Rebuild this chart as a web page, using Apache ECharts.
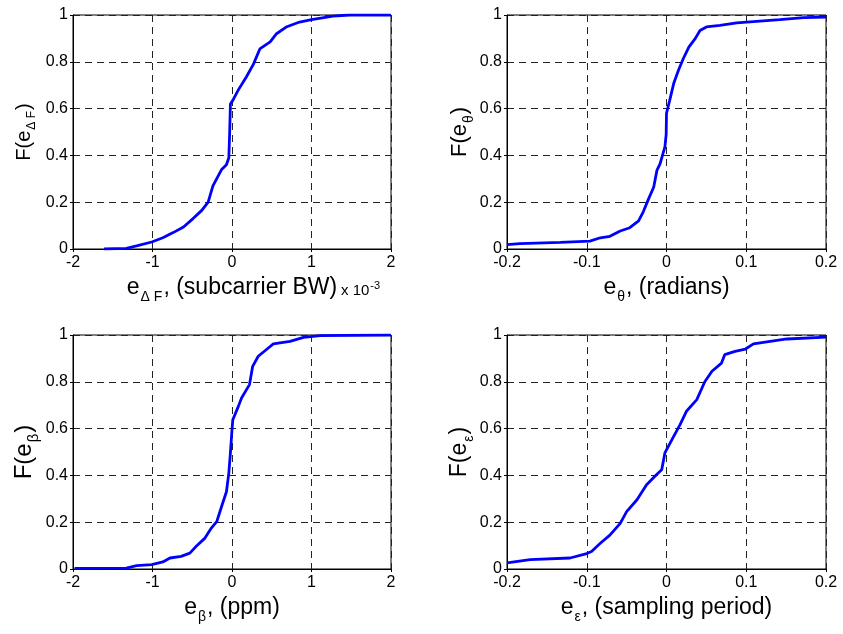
<!DOCTYPE html>
<html>
<head>
<meta charset="utf-8">
<script src="https://cdn.jsdelivr.net/npm/echarts@6/dist/echarts.min.js"></script>
<style>
html,body{margin:0;padding:0;background:#fff;}
#chart{width:843px;height:634px;}
</style>
</head>
<body>
<div id="chart"></div>
<script>
// CDF of frequency offset error (x 10^-3 subcarrier BW)
const freqX = [-1.61,-1.33,-1.20,-1.01,-0.87,-0.74,-0.61,-0.49,-0.38,-0.30,-0.24,-0.13,-0.07,-0.04,-0.03,-0.02,0.01,0.08,0.18,0.27,0.35,0.48,0.56,0.69,0.85,1.00,1.27,1.48,2.00];
const freqY = [0,0.003,0.013,0.03,0.048,0.07,0.094,0.13,0.165,0.20,0.27,0.34,0.36,0.39,0.49,0.62,0.635,0.68,0.735,0.79,0.855,0.885,0.92,0.95,0.97,0.98,0.995,1.0,1.0];
// CDF of phase error (radians)
const thetaX = [-0.2,-0.184,-0.133,-0.096,-0.083,-0.071,-0.058,-0.046,-0.035,-0.029,-0.023,-0.016,-0.012,-0.008,-0.002,-0.0004,0.0,0.004,0.009,0.015,0.021,0.028,0.036,0.042,0.05,0.067,0.088,0.109,0.142,0.172,0.2];
const thetaY = [0.019,0.023,0.028,0.034,0.048,0.054,0.077,0.091,0.12,0.16,0.21,0.265,0.336,0.365,0.436,0.49,0.58,0.635,0.707,0.764,0.813,0.863,0.899,0.934,0.949,0.956,0.966,0.972,0.98,0.989,0.991];
// CDF of clock offset error (ppm)
const betaX = [-1.98,-1.33,-1.20,-1.01,-0.87,-0.78,-0.64,-0.53,-0.45,-0.34,-0.26,-0.19,-0.13,-0.07,-0.04,-0.02,0.0,0.01,0.08,0.12,0.22,0.26,0.33,0.43,0.52,0.73,0.90,1.11,2.0];
const betaY = [0.003,0.004,0.014,0.019,0.03,0.047,0.054,0.068,0.097,0.132,0.175,0.204,0.268,0.33,0.41,0.496,0.595,0.638,0.695,0.731,0.788,0.866,0.909,0.937,0.962,0.973,0.99,0.997,1.0];
// CDF of timing error (sampling period)
const epsX = [-0.2,-0.171,-0.121,-0.1,-0.094,-0.083,-0.071,-0.058,-0.05,-0.037,-0.025,-0.012,-0.006,-0.002,0.008,0.017,0.025,0.038,0.048,0.057,0.069,0.073,0.086,0.099,0.109,0.13,0.151,0.2];
const epsY = [0.026,0.04,0.047,0.066,0.075,0.11,0.145,0.195,0.245,0.296,0.36,0.405,0.424,0.496,0.56,0.617,0.674,0.724,0.8,0.845,0.88,0.916,0.93,0.94,0.962,0.973,0.983,0.991];

const xRanges = [[-2,2,1],[-0.2,0.2,0.1],[-2,2,1],[-0.2,0.2,0.1]];
const yTicks = ['0','0.2','0.4','0.6','0.8','1'];

const FONT = 'Liberation Sans, Arial, sans-serif';
const pair = (xs, ys) => xs.map((x, i) => [x, ys[i]]);
const seriesData = [pair(freqX, freqY), pair(thetaX, thetaY), pair(betaX, betaY), pair(epsX, epsY)];

function richStyles(size) {
  const ss = Math.round(size * 0.62);
  return {
    m: { fontSize: size, fontFamily: FONT, color: '#000', lineHeight: size + 2 },
    s: { fontSize: ss, fontFamily: FONT, color: '#000', lineHeight: ss, padding: [Math.round(size * 0.8), 1, 0, 1] }
  };
}

const xNames = ['{m|e}{s|Δ F}{m|, (subcarrier BW)}', '{m|e}{s|θ}{m|, (radians)}', '{m|e}{s|β}{m|, (ppm)}', '{m|e}{s|ε}{m|, (sampling period)}'];
const yNames = ['{m|F(e}{s|Δ F}{m|)}', '{m|F(e}{s|θ}{m|)}', '{m|F(e}{s|β}{m|)}', '{m|F(e}{s|ε}{m|)}'];
const yNameSizes = [20, 22, 24, 23];
const yNameGaps = [38, 32, 30, 31];
const xNameGaps = [15, 15, 20, 20];

const grids = [
  { left: 73, top: 15, width: 318, height: 234 },
  { left: 507, top: 15, width: 319, height: 234 },
  { left: 73, top: 335, width: 318, height: 234 },
  { left: 507, top: 335, width: 319, height: 234 }
].map(g => Object.assign(g, { show: true, borderColor: '#000', borderWidth: 1, backgroundColor: '#fff' }));

const dashed = { show: true, lineStyle: { color: '#222', width: 1, type: [7, 5] } };

const xAxes = xRanges.map((r, i) => ({
  type: 'value', gridIndex: i, min: r[0], max: r[1], interval: r[2],
  name: xNames[i], nameLocation: 'middle', nameGap: xNameGaps[i],
  nameTextStyle: { rich: richStyles(23) },
  axisLine: { show: true, onZero: false, lineStyle: { color: '#000', width: 1 } },
  axisTick: { show: true, inside: false, length: 3, lineStyle: { color: '#000' } },
  axisLabel: { fontSize: 16, fontFamily: FONT, color: '#000', margin: 6 },
  splitLine: dashed
}));

const yAxes = [0,1,2,3].map(i => ({
  type: 'value', gridIndex: i, min: 0, max: 1, interval: 0.2,
  name: yNames[i], nameLocation: 'middle', nameRotate: 90, nameGap: yNameGaps[i],
  nameTextStyle: { rich: richStyles(yNameSizes[i]) },
  axisLine: { show: true, onZero: false, lineStyle: { color: '#000', width: 1 } },
  axisTick: { show: true, inside: false, length: 3, lineStyle: { color: '#000' } },
  axisLabel: { fontSize: 16, fontFamily: FONT, color: '#000', margin: 5,
    formatter: v => yTicks[Math.round(v * 5)] },
  splitLine: dashed
}));

const series = seriesData.map((d, i) => ({
  type: 'line', xAxisIndex: i, yAxisIndex: i, data: d,
  showSymbol: false, symbol: 'none', smooth: false, clip: true,
  lineStyle: { color: '#0000ff', width: 2.8 }, z: 5, animation: false
}));

const chart = echarts.init(document.getElementById('chart'), null, { renderer: 'canvas' });
chart.setOption({
  backgroundColor: '#fff',
  animation: false,
  grid: grids,
  xAxis: xAxes,
  yAxis: yAxes,
  series: series,
  graphic: [{
    type: 'text', left: 341, top: 280,
    style: {
      text: '{a|x 10}{b|-3}',
      rich: {
        a: { fontSize: 15, fontFamily: FONT, color: '#000', lineHeight: 15 },
        b: { fontSize: 11, fontFamily: FONT, color: '#000', lineHeight: 11, padding: [0, 0, 11, 1] }
      }
    }
  }]
});
</script>
</body>
</html>
